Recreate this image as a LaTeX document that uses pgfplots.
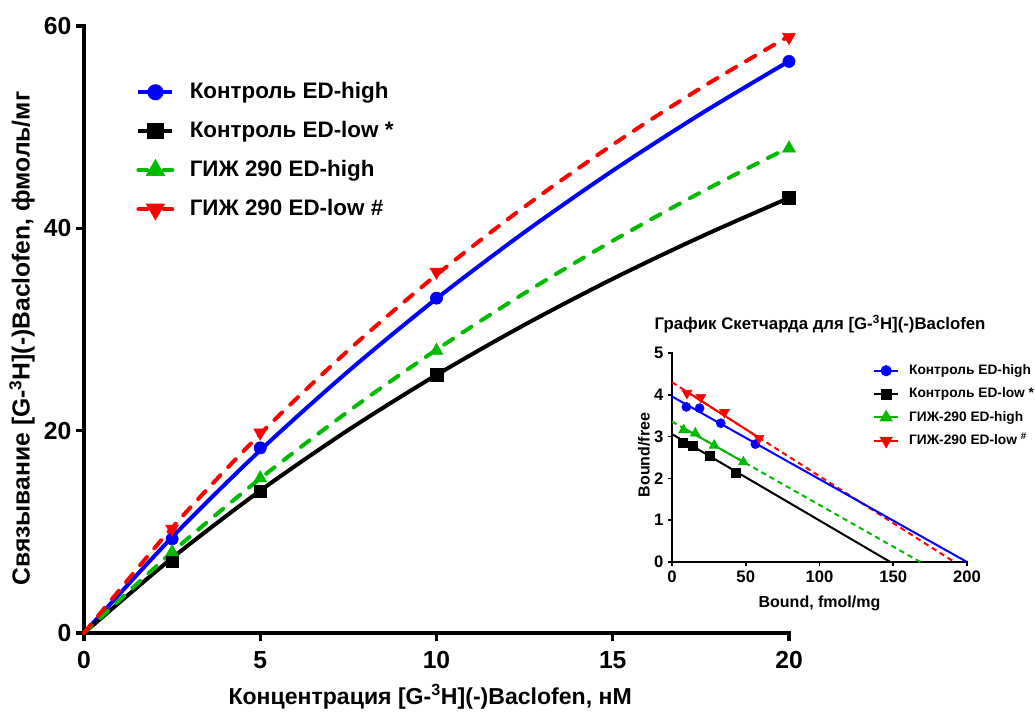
\documentclass[border=0pt]{standalone}
\usepackage{fontspec}
\setmainfont{Liberation Sans}
\usepackage{pgfplots}
\pgfplotsset{compat=1.18}
\definecolor{cgreen}{RGB}{0,187,0}
\definecolor{cblue}{RGB}{0,0,255}
\definecolor{cred}{RGB}{255,0,0}
\begin{document}
\begin{tikzpicture}
\path[use as bounding box] (0,0) rectangle (776.25pt,533.25pt);
\begin{axis}[
  at={(63pt,58.5pt)}, anchor=south west,
  scale only axis, width=528.75pt, height=455.25pt,
  xmin=0, xmax=20, ymin=0, ymax=60,
  axis x line*=bottom, axis y line*=left,
  axis line style={line width=3pt, line cap=rect},
  xtick={0,5,10,15,20}, ytick={0,20,40,60},
  minor tick num=0,
  tick align=outside, major tick length=6pt,
  tick style={line width=2.5pt, black},
  tick label style={font=\bfseries\fontsize{18.5}{21}\selectfont},
  xticklabel style={yshift=-4pt},
  /pgf/number format/assume math mode=true,
  xlabel={Концентрация [G-\textsuperscript{3}H](-)Baclofen, нМ},
  ylabel={Связывание [G-\textsuperscript{3}H](-)Baclofen, фмоль/мг},
  xlabel style={at={(axis description cs:0.491,-0.105)}, anchor=center, font=\bfseries\fontsize{17.3}{20}\selectfont},
  ylabel style={at={(axis description cs:-0.088,0.485)}, anchor=center, font=\bfseries\fontsize{18.5}{21}\selectfont},
  clip=false,
  legend image code/.code={
    \draw[#1] (0pt,0pt) -- (25.5pt,0pt);
    \draw[#1, solid] plot coordinates {(12.75pt,0pt)};
  },
  legend cell align=left,
  legend style={at={(axis description cs:0.074,0.91)}, anchor=north west,
    draw=none, fill=none, inner sep=0pt, row sep=12.25pt, column sep=11.5pt,
    font=\bfseries\fontsize{16.8}{19}\selectfont,
    nodes={inner sep=0pt, text height=13pt, text depth=4pt}},
]
\addlegendimage{cblue, line width=3pt, mark=*, mark size=4.5pt}
\addlegendentry{Контроль ED-high}
\addlegendimage{black, line width=3pt, mark=square*, mark size=4.6pt}
\addlegendentry{Контроль ED-low *}
\addlegendimage{cgreen, line width=3pt, line cap=round, dash pattern=on 6.5pt off 12.5pt, mark=triangle*, mark size=5.5pt, mark options={solid}}
\addlegendentry{ГИЖ 290 ED-high}
\addlegendimage{cred, line width=3pt, line cap=round, dash pattern=on 6.5pt off 12.5pt, mark=triangle*, mark size=5.5pt, mark options={solid, rotate=180}}
\addlegendentry{ГИЖ 290 ED-low \#}

% Контроль ED-high
\addplot[cblue, line width=3pt, smooth, forget plot] coordinates {(0,0)(2.5,9.47)(5,18.06)(7.5,25.88)(10,33.05)(12.5,39.63)(15,45.70)(17.5,51.32)(20,56.52)};
\addplot[cblue, only marks, mark=*, mark size=4.6pt, forget plot] coordinates {(2.5,9.3)(5,18.3)(10,33.1)(20,56.5)};
% Контроль ED-low
\addplot[black, line width=3pt, smooth, forget plot] coordinates {(0,0)(2.5,7.41)(5,14.07)(7.5,20.07)(10,25.51)(12.5,30.47)(15,35.01)(17.5,39.17)(20,43.01)};
\addplot[black, only marks, mark=square*, mark size=4.7pt, forget plot] coordinates {(2.5,7.1)(5,14.0)(10,25.5)(20,43.0)};
% ГИЖ 290 ED-high
\addplot[cgreen, line width=3pt, smooth, line cap=round, dash pattern=on 8pt off 8.5pt, forget plot] coordinates {(0,0)(2.5,8.0)(5,15.27)(7.5,21.91)(10,28.0)(12.5,33.6)(15,38.77)(17.5,43.56)(20,48.0)};
\addplot[cgreen, only marks, mark=triangle*, mark size=5.6pt, forget plot] coordinates {(2.5,8.0)(5,15.3)(10,27.9)(20,47.9)};
% ГИЖ 290 ED-low
\addplot[cred, line width=3pt, smooth, line cap=round, dash pattern=on 8pt off 8.5pt, forget plot] coordinates {(0,0)(2.5,10.41)(5,19.67)(7.5,27.95)(10,35.4)(12.5,42.14)(15,48.27)(17.5,53.87)(20,59.0)};
\addplot[cred, only marks, mark=triangle*, mark size=5.6pt, mark options={rotate=180}, forget plot] coordinates {(2.5,10.3)(5,19.8)(10,35.7)(20,58.9)};
\end{axis}

\begin{axis}[
  at={(504pt,111.75pt)}, anchor=south west,
  scale only axis, width=221.25pt, height=156.75pt,
  xmin=0, xmax=200, ymin=0, ymax=5,
  axis x line*=bottom, axis y line*=left,
  axis line style={line width=1.5pt, line cap=rect},
  xtick={0,50,100,150,200}, ytick={0,1,2,3,4,5},
  minor tick num=0,
  tick align=outside, major tick length=3pt,
  tick style={line width=1.3pt, black},
  tick label style={font=\bfseries\fontsize{12.5}{14}\selectfont},
  /pgf/number format/assume math mode=true,
  xlabel={Bound, fmol/mg},
  ylabel={Bound/free},
  label style={font=\bfseries\fontsize{12}{14}\selectfont},
  xlabel style={at={(axis description cs:0.5,-0.196)}, anchor=center},
  ylabel style={at={(axis description cs:-0.095,0.512)}, anchor=center},
  title={График Скетчарда для [G-\textsuperscript{3}H](-)Baclofen},
  title style={at={(axis description cs:0.502,1.075)}, anchor=base, yshift=0pt, font=\bfseries\fontsize{12.6}{14}\selectfont},
  clip=false,
  legend image code/.code={
    \draw[#1] (0pt,0pt) -- (18pt,0pt);
    \draw[#1, solid] plot coordinates {(9pt,0pt)};
  },
  legend cell align=left,
  legend style={at={(axis description cs:0.681,0.95)}, anchor=north west,
    draw=none, fill=none, inner sep=0pt, row sep=7pt, column sep=7.5pt,
    font=\bfseries\fontsize{10.3}{12}\selectfont,
    nodes={inner sep=0pt, text height=8pt, text depth=2.5pt}},
]
\addlegendimage{cblue, line width=1.5pt, mark=*, mark size=3.4pt}
\addlegendentry{Контроль ED-high}
\addlegendimage{black, line width=1.5pt, mark=square*, mark size=3.4pt}
\addlegendentry{Контроль ED-low *}
\addlegendimage{cgreen, line width=1.5pt, mark=triangle*, mark size=4.3pt}
\addlegendentry{ГИЖ-290 ED-high}
\addlegendimage{cred, line width=1.5pt, mark=triangle*, mark size=4.3pt, mark options={rotate=180}}
\addlegendentry{ГИЖ-290 ED-low \textsuperscript{\#}}

\addplot[cgreen, line width=1.5pt, dash pattern=on 4pt off 3pt, forget plot] coordinates {(0,3.36)(168.4,0)};
\addplot[cred, line width=1.5pt, dash pattern=on 4pt off 3pt, forget plot] coordinates {(0,4.30)(191.4,0)};
\addplot[cblue, line width=1.5pt, forget plot] coordinates {(0,3.96)(200,0)};
\addplot[black, line width=1.5pt, forget plot] coordinates {(0,3.06)(148,0)};
\addplot[cgreen, line width=1.5pt, forget plot] coordinates {(7.9,3.202)(48.4,2.394)};
\addplot[cred, line width=1.5pt, forget plot] coordinates {(10.1,4.073)(59,2.974)};

\addplot[cblue, only marks, mark=*, mark size=3.4pt, forget plot] coordinates {(9.7,3.71)(18.7,3.68)(33.1,3.32)(56.5,2.82)};
\addplot[black, only marks, mark=square*, mark size=3.4pt, forget plot] coordinates {(7.4,2.86)(14.2,2.79)(25.9,2.55)(43.2,2.14)};
\addplot[cgreen, only marks, mark=triangle*, mark size=4.3pt, forget plot] coordinates {(7.9,3.16)(15.8,3.08)(28.6,2.79)(48.4,2.39)};
\addplot[cred, only marks, mark=triangle*, mark size=4.3pt, mark options={rotate=180}, forget plot] coordinates {(10.1,4.04)(19.6,3.94)(35.6,3.58)(59,2.96)};
\end{axis}
\end{tikzpicture}
\end{document}
